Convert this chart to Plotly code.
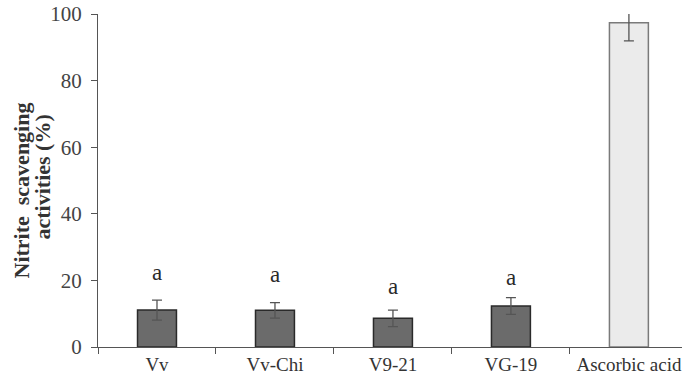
import plotly.graph_objects as go

categories = ["Vv", "Vv-Chi", "V9-21", "VG-19", "Ascorbic acid"]
values = [11.1, 11.0, 8.6, 12.3, 97.4]
err_plus = [3.0, 2.3, 2.5, 2.5, 5.5]
err_minus = [3.0, 2.3, 2.5, 2.5, 5.5]
letters = ["a", "a", "a", "a", ""]
letter_y = [22.5, 21.7, 18.3, 20.8, None]
bar_colors = ["#6b6b6b", "#6b6b6b", "#6b6b6b", "#6b6b6b", "#ebebeb"]
line_colors = ["#2a2a2a", "#2a2a2a", "#2a2a2a", "#2a2a2a", "#7a7a7a"]
y_ticks = [0, 20, 40, 60, 80, 100]

FONT = "Liberation Serif, Times New Roman, serif"

fig = go.Figure()
fig.add_trace(go.Bar(
    x=categories, y=values, width=0.33,
    marker=dict(color=bar_colors, line=dict(color=line_colors, width=1.5)),
    error_y=dict(type="data", symmetric=False, array=err_plus, arrayminus=err_minus,
                 color="#555555", thickness=1.3, width=5),
))

for c, t, ly in zip(categories, letters, letter_y):
    if t:
        fig.add_annotation(x=c, y=ly, text=t, showarrow=False, xref="x", yref="y",
                           font=dict(family=FONT, size=23, color="#2a2a2a"),
                           yanchor="middle")

fig.add_annotation(xref="paper", yref="paper", x=0, y=0.5, xshift=-77, yshift=-10,
                   text="<b>Nitrite  scavenging</b>", textangle=-90, showarrow=False,
                   xanchor="center", yanchor="middle",
                   font=dict(family=FONT, size=22, color="#333333"))
fig.add_annotation(xref="paper", yref="paper", x=0, y=0.5, xshift=-56, yshift=3,
                   text="<b>activities (%)</b>", textangle=-90, showarrow=False,
                   xanchor="center", yanchor="middle",
                   font=dict(family=FONT, size=22, color="#333333"))

fig.update_layout(
    width=682, height=377,
    margin=dict(l=98, r=0, t=14, b=30, autoexpand=False),
    plot_bgcolor="white", paper_bgcolor="white",
    showlegend=False,
    font=dict(family=FONT, size=20, color="#333333"),
)
fig.update_xaxes(
    range=[-0.5, 4.45], showline=True, linecolor="#555555", linewidth=1.3,
    ticks="outside", tickson="boundaries", ticklen=6, tickcolor="#555555",
    tickangle=0, automargin=False,
    tickfont=dict(family=FONT, size=19, color="#333333"), showgrid=False,
)
fig.update_yaxes(
    range=[0, 100], tickvals=y_ticks, showline=True, linecolor="#555555", linewidth=1.3,
    ticks="outside", ticklen=6, tickcolor="#555555", showgrid=False, zeroline=False,
    automargin=False, ticklabelstandoff=5,
    tickfont=dict(family=FONT, size=21, color="#444444"),
)

fig.write_html("out.html")
